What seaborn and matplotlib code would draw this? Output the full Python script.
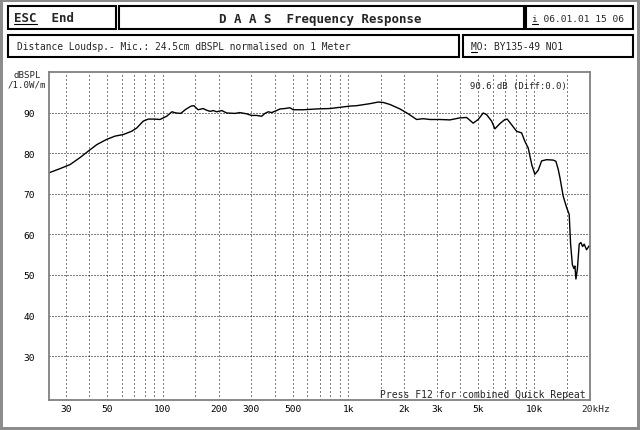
import matplotlib
matplotlib.use("Agg")
import matplotlib.pyplot as plt
from matplotlib.patches import Rectangle
from matplotlib.lines import Line2D
from matplotlib.ticker import NullFormatter
import seaborn as sns

# ---- data ----
freq_hz = [24.5, 28.0, 31.7, 35.8, 39.7, 44.1, 49.9, 55.3, 61.3, 68.0, 72.4, 78.5, 83.6, 90.8,
           96.6, 105, 112, 118, 125, 133, 142, 147, 155, 165, 172, 180, 187, 195, 208, 221,
           245, 260, 283, 301, 320, 341, 355, 370, 386, 410, 428, 455, 484, 504, 571, 674,
           795, 900, 1019, 1107, 1306, 1447, 1540, 1673, 1894, 2099, 2329, 2528, 2747, 3111,
           3520, 3984, 4329, 4698, 5000, 5321, 5549, 5904, 6150, 6546, 6964, 7165, 7567, 8052,
           8566, 8921, 9293, 9496, 9733, 10100, 10523, 10977, 11676, 12675, 13107, 13486,
           13772, 14346, 14963, 15262, 15453, 15722, 16077, 16380, 16585, 16794, 17107, 17493,
           17867, 18244, 18608, 19173, 19800, 20000]
spl_db = [75.2, 76.2, 77.2, 78.9, 80.5, 82.1, 83.4, 84.2, 84.6, 85.4, 86.2, 87.9, 88.4, 88.4,
          88.3, 89.1, 90.2, 89.9, 89.8, 90.8, 91.6, 91.7, 90.7, 91.0, 90.6, 90.3, 90.5, 90.2,
          90.5, 89.9, 89.8, 90.0, 89.7, 89.3, 89.3, 89.1, 89.8, 90.2, 90.0, 90.5, 90.9, 91.0,
          91.2, 90.7, 90.7, 90.9, 91.0, 91.3, 91.6, 91.7, 92.2, 92.6, 92.5, 92.0, 90.9, 89.7,
          88.3, 88.5, 88.3, 88.3, 88.2, 88.7, 88.8, 87.4, 88.3, 89.9, 89.5, 87.9, 86.0, 87.3,
          88.3, 88.4, 87.0, 85.4, 85.0, 82.9, 81.3, 79.3, 77.0, 74.8, 75.8, 78.1, 78.4, 78.3,
          78.0, 76.0, 74.0, 69.4, 66.6, 65.6, 64.9, 57.6, 52.5, 51.6, 52.2, 49.0, 51.5, 57.6,
          58.0, 57.0, 57.6, 56.2, 57.2, 57.0]

x_label_freqs = [30, 50, 100, 200, 300, 500, 1000, 2000, 3000, 5000, 10000]
x_labels = ["30", "50", "100", "200", "300", "500", "1k", "2k", "3k", "5k", "10k"]
x_grid_minor = [40, 60, 70, 80, 90, 150, 400, 600, 700, 800, 900, 1500,
                4000, 6000, 7000, 8000, 9000, 15000]
y_ticks = [30, 40, 50, 60, 70, 80, 90]
y_labels = ["30", "40", "50", "60", "70", "80", "90"]

title_text = "D A A S  Frequency Response"
esc_text = "ESC  End"
date_text = "i 06.01.01 15 06"
info_text = "Distance Loudsp.- Mic.: 24.5cm dBSPL normalised on 1 Meter"
model_text = "MO: BY135-49 NO1"
level_text = "90.6 dB (Diff:0.0)"
press_text = "Press F12 for combined Quick Repeat"

# ---- styling ----
sns.set_style("white")
plt.rcParams["font.family"] = ["DejaVu Sans Mono", "DejaVu Sans"]

W, H = 640, 431
fig = plt.figure(figsize=(W / 100, H / 100), dpi=100)
fig.patch.set_facecolor("white")


def px(x, y):
    return (x / W, 1 - y / H)


def box(x0, y0, x1, y1, lw=1.5, color="black"):
    fig.add_artist(Rectangle(px(x0, y1), (x1 - x0) / W, (y1 - y0) / H,
                             transform=fig.transFigure, fill=False,
                             edgecolor=color, linewidth=lw))


def uline(x0, x1, y):
    fig.add_artist(Line2D([x0 / W, x1 / W], [1 - y / H, 1 - y / H],
                          transform=fig.transFigure, color="black", linewidth=0.8))


# plot area
ax_left, ax_right, ax_top, ax_bottom = 49, 590, 73, 401
ax = fig.add_axes([ax_left / W, 1 - ax_bottom / H, (ax_right - ax_left) / W,
                   (ax_bottom - ax_top) / H])

sns.lineplot(x=freq_hz, y=spl_db, ax=ax, color="black", linewidth=1.0,
             estimator=None, sort=False)

ax.set_xscale("log")
ax.set_xlim(24.4, 20000)
ax.set_ylim(19.2, 100)

ax.set_xticks(x_label_freqs, x_labels)
ax.set_xticks(x_grid_minor, minor=True)
ax.xaxis.set_minor_formatter(NullFormatter())
ax.set_yticks(y_ticks, y_labels)
ax.tick_params(axis="both", which="both", length=0, labelsize=6.8, colors="black")
ax.tick_params(axis="x", pad=3.2)
ax.tick_params(axis="y", pad=10)
ax.set_xlabel("")
ax.set_ylabel("")

ax.grid(True, which="both", axis="x", color="black", linestyle=(0, (1, 3)), linewidth=0.72)
ax.grid(True, which="major", axis="y", color="black", linestyle=(0, (1, 2)), linewidth=0.72)
ax.set_axisbelow(True)

for s in ax.spines.values():
    s.set_color("#808080")
    s.set_linewidth(1.3)
    s.set_visible(True)

ax.annotate("20kHz", xy=(20000, 0), xycoords=("data", "axes fraction"),
            xytext=(-8.5, -9), textcoords="offset pixels", ha="left", va="center",
            fontsize=6.8)

fig.text(*px(567, 86), level_text, ha="right", va="center", fontsize=6.5)
fig.text(*px(380, 395), press_text, ha="left", va="center", fontsize=7)

fig.text(*px(27, 76), "dBSPL", ha="center", va="center", fontsize=6.6)
fig.text(*px(27, 85), "/1.0W/m", ha="center", va="center", fontsize=6.6)

# header boxes
box(8, 7, 116, 30)
box(119, 7, 524, 30)
box(526, 7, 633, 30)
box(8, 36, 459, 58)
box(463, 36, 633, 58)

fig.text(*px(14, 19), esc_text, ha="left", va="center", fontsize=9, fontweight="bold")
uline(14, 37, 25)
fig.text(*px(320, 19), title_text, ha="center", va="center", fontsize=9, fontweight="bold")
fig.text(*px(532, 19), date_text, ha="left", va="center", fontsize=6.8)
uline(532, 538, 25)
fig.text(*px(17, 47), info_text, ha="left", va="center", fontsize=6.9)
fig.text(*px(471, 47), model_text, ha="left", va="center", fontsize=6.9)
uline(471, 477, 52.5)

# outer frame
fig.add_artist(Rectangle((0, 0), 1, 1, transform=fig.transFigure, fill=False,
                         edgecolor="#8c8c8c", linewidth=4.3))

fig.savefig("out.png", dpi=100)
